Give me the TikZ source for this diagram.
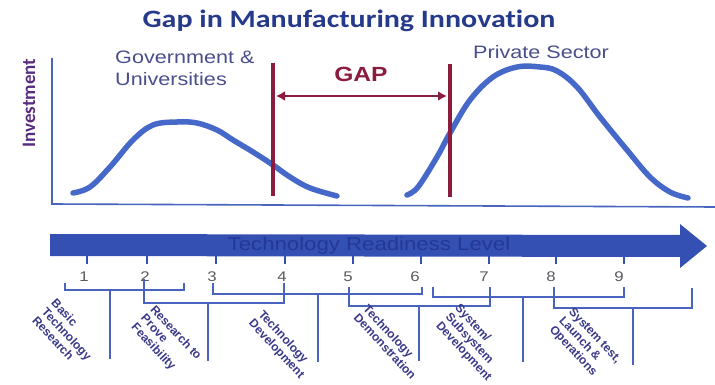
\documentclass[tikz,border=0pt]{standalone}
\usepackage{fontspec}
\setmainfont{Liberation Sans}
\newfontfamily\titlefont[FakeStretch=1.2, Ligatures=NoCommon]{Carlito}
\newfontfamily\tallfont[Ligatures=NoCommon]{Carlito}
\newfontfamily\widefont[FakeStretch=1.2]{Liberation Sans}
\usetikzlibrary{arrows.meta}
\definecolor{titleblue}{RGB}{38,58,140}
\definecolor{investpurple}{RGB}{88,44,128}
\definecolor{sidegray}{RGB}{74,78,140}
\definecolor{gapred}{RGB}{140,28,62}
\definecolor{curveblue}{RGB}{70,104,200}
\definecolor{axisblue}{RGB}{72,100,190}
\definecolor{arrowblue}{RGB}{52,80,178}
\definecolor{arrowtext}{RGB}{36,56,150}
\definecolor{numgray}{RGB}{90,90,96}
\definecolor{stageblue}{RGB}{58,56,136}

\begin{document}
\begin{tikzpicture}[x=1pt, y=-1pt]
	\tikzstyle{every node}=[inner sep=0pt, align=center]
	\tikzstyle{curve}=[line width=5.5pt, curveblue, line cap=round]
	\tikzstyle{axis}=[line width=1.6pt, axisblue]
	\tikzstyle{gapline}=[line width=4.5pt, gapred]
	\tikzstyle{bracket}=[line width=1.8pt, axisblue]
	\tikzstyle{stagelabel}=[rotate=-47, align=left, text=stageblue, font=\bfseries\fontsize{12}{13}\selectfont]
	\useasboundingbox (0,0) rectangle (715,385);

	\node[font=\titlefont\bfseries\fontsize{25}{30}\selectfont, text=titleblue] (title) at (349,21) {Gap in Manufacturing Innovation};

	% axes
	\coordinate (ytop) at (52,58);
	\coordinate (origin) at (52,204);
	\coordinate (xend) at (715,207);
	\draw[axis] (ytop) -- (origin) -- (xend);
	\node[rotate=90, font=\tallfont\bfseries\fontsize{19}{23}\selectfont, text=investpurple] (invest) at (29,103) {Investment};

	% investment curves
	\draw[curve] plot[smooth, tension=0.6] coordinates {(73,193) (90,187) (110,167) (133,140) (153,125) (177,122) (197,123) (217,130) (233,140) (253,152) (273,165) (290,177) (310,188) (337,196)};
	\draw[curve] plot[smooth, tension=0.6] coordinates {(407,195) (418,187) (437,157) (450,133) (470,100) (493,77) (517,67) (540,67) (557,71) (577,87) (600,117) (627,150) (650,177) (670,192) (688,198)};
	\node[font=\widefont\fontsize{18}{21.5}\selectfont, text=sidegray, align=left, anchor=north west] (gov) at (115,51) {Government \&\\Universities};
	\node[font=\widefont\fontsize{18}{21.5}\selectfont, text=sidegray] (private) at (541,52) {Private Sector};

	% the gap
	\coordinate (gapLtop) at (273,63);
	\coordinate (gapLbot) at (273,196);
	\coordinate (gapRtop) at (450,64);
	\coordinate (gapRbot) at (450,197);
	\coordinate (gapL) at (273,96);
	\coordinate (gapR) at (450,96);
	\draw[gapline] (gapLtop) -- (gapLbot);
	\draw[gapline] (gapRtop) -- (gapRbot);
	\draw[line width=2.4pt, gapred, {Latex[length=9pt,width=10pt]}-{Latex[length=9pt,width=10pt]}, shorten <=3pt, shorten >=3pt] (gapL) -- (gapR);
	\node[font=\widefont\bfseries\fontsize{20.5}{24}\selectfont, text=gapred] (gap) at (361,74) {GAP};

	% readiness arrow
	\fill[arrowblue] (50,234) -- (680,235) -- (680,224) -- (707,246) -- (680,268) -- (680,257) -- (50,256) -- cycle;
	\node[font=\widefont\fontsize{18.5}{22}\selectfont, text=arrowtext] (trl) at (369,246) {Technology Readiness Level};
	\foreach \x/\n/\nx in {87/1/84, 147/2/145, 216/3/212, 285/4/282, 353/5/348, 421/6/415, 489/7/484, 556/8/551, 624/9/619} {
		\draw[line width=1.5pt, arrowblue] (\x,256) -- (\x,264);
		\node[font=\widefont\fontsize{14}{16}\selectfont, text=numgray] (n\n) at (\nx,277) {\n};
	}

	% stage brackets
	\foreach \l/\lt/\r/\rt/\b/\s/\e in {65/283/184/283/290/110/359, 144/279/284/283/303/208/361, 213/283/422/287/294/318/362, 349/287/490/287/306/419/361, 433/287/624/287/297/523/362, 554/287/692/288/308/633/365} {
		\draw[bracket] (\l,\lt) |- (\r,\b) -- (\r,\rt);
		\draw[bracket] (\s,\b) -- (\s,\e);
	}
	\node[stagelabel] (basic) at (67,334) {Basic\\Technology\\Research};
	\node[stagelabel] (prove) at (166,342) {Research to\\Prove\\Feasibility};
	\node[stagelabel] (develop) at (281,345) {Technology\\Development};
	\node[stagelabel] (demo) at (390,342) {Technology\\Demonstration};
	\node[stagelabel] (subsys) at (473,343) {System/\\Subsystem\\Development};
	\node[stagelabel] (launch) at (585,345) {System test,\\Launch \&\\Operations};
\end{tikzpicture}
\end{document}
